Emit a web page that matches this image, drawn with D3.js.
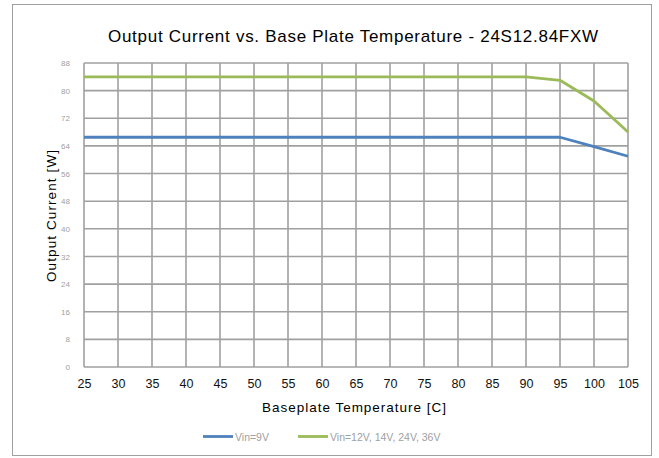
<!DOCTYPE html>
<html><head><meta charset="utf-8">
<script src="https://cdn.jsdelivr.net/npm/d3@7"></script>
<style>body{margin:0;background:#fff;} svg{display:block;}</style>
</head><body>
<svg id="c" width="659" height="458"></svg>
<script>
const temps = [25,30,35,40,45,50,55,60,65,70,75,80,85,90,95,100,105];
const vin9 = [66.5,66.5,66.5,66.5,66.5,66.5,66.5,66.5,66.5,66.5,66.5,66.5,66.5,66.5,66.5,63.8,61];
const vinHigh = [84,84,84,84,84,84,84,84,84,84,84,84,84,84,83,77,68];
const yTicks = [0,8,16,24,32,40,48,56,64,72,80,88];
const seriesNames = ["Vin=9V","Vin=12V, 14V, 24V, 36V"];
const seriesColors = ["#4F81BD","#9BBB59"];

const svg = d3.select("#c");
const font = "Liberation Sans, Arial, sans-serif";
svg.append("rect").attr("x",12.5).attr("y",4.5).attr("width",639).attr("height",451)
  .attr("fill","#fff").attr("stroke","#a0a0a0").attr("stroke-width",1);

const x = d3.scaleLinear().domain([25,105]).range([84,628]);
const y = d3.scaleLinear().domain([0,88]).range([367,63]);

const g = svg.append("g");
g.selectAll(".hg").data(yTicks).enter().append("line")
  .attr("x1",x(25)).attr("x2",x(105)).attr("y1",d=>y(d)).attr("y2",d=>y(d))
  .attr("stroke","#a0a0a0").attr("stroke-width",1.6);
g.selectAll(".vg").data(temps).enter().append("line")
  .attr("y1",y(0)).attr("y2",y(88)).attr("x1",d=>x(d)).attr("x2",d=>x(d))
  .attr("stroke","#a0a0a0").attr("stroke-width",1.6);

const xAxis = d3.axisBottom(x).tickValues(temps).tickSize(0).tickPadding(12);
const xa = svg.append("g").attr("transform",`translate(0,${y(0)})`).call(xAxis);
xa.select(".domain").remove();
xa.selectAll("text").attr("font-family",font).attr("font-size",12.5).attr("fill","#111");

const yAxis = d3.axisLeft(y).tickValues(yTicks).tickSize(0).tickPadding(14);
const ya = svg.append("g").attr("transform",`translate(${x(25)},0)`).call(yAxis);
ya.select(".domain").remove();
ya.selectAll("text").attr("font-family",font).attr("font-size",8).attr("fill","#a0a0a0");

const line = d3.line().x((d,i)=>x(temps[i])).y(d=>y(d));
[vin9, vinHigh].forEach((s,k)=>{
  svg.append("path").datum(s).attr("d",line).attr("fill","none")
    .attr("stroke",seriesColors[k]).attr("stroke-width",2.8).attr("stroke-linejoin","round");
});

svg.append("text").attr("x",108).attr("y",42)
  .attr("font-family",font).attr("font-size",17).attr("fill","#000")
  .attr("textLength",490).attr("lengthAdjust","spacing")
  .text("Output Current vs. Base Plate Temperature - 24S12.84FXW");
svg.append("text").attr("transform","translate(56,216) rotate(-90)").attr("text-anchor","middle")
  .attr("font-family",font).attr("font-size",13.5).attr("fill","#000")
  .attr("textLength",132).attr("lengthAdjust","spacing").text("Output Current [W]");
svg.append("text").attr("x",262).attr("y",412)
  .attr("font-family",font).attr("font-size",13.5).attr("fill","#000")
  .attr("textLength",184).attr("lengthAdjust","spacing").text("Baseplate Temperature [C]");

const lx = [203, 298];
seriesNames.forEach((n,k)=>{
  svg.append("line").attr("x1",lx[k]).attr("x2",lx[k]+30).attr("y1",436.5).attr("y2",436.5)
    .attr("stroke",seriesColors[k]).attr("stroke-width",2.8);
  svg.append("text").attr("x",lx[k]+32).attr("y",440.5).attr("font-family",font)
    .attr("font-size",10.5).attr("fill","#a0a0a0").text(n);
});
</script>
</body></html>
